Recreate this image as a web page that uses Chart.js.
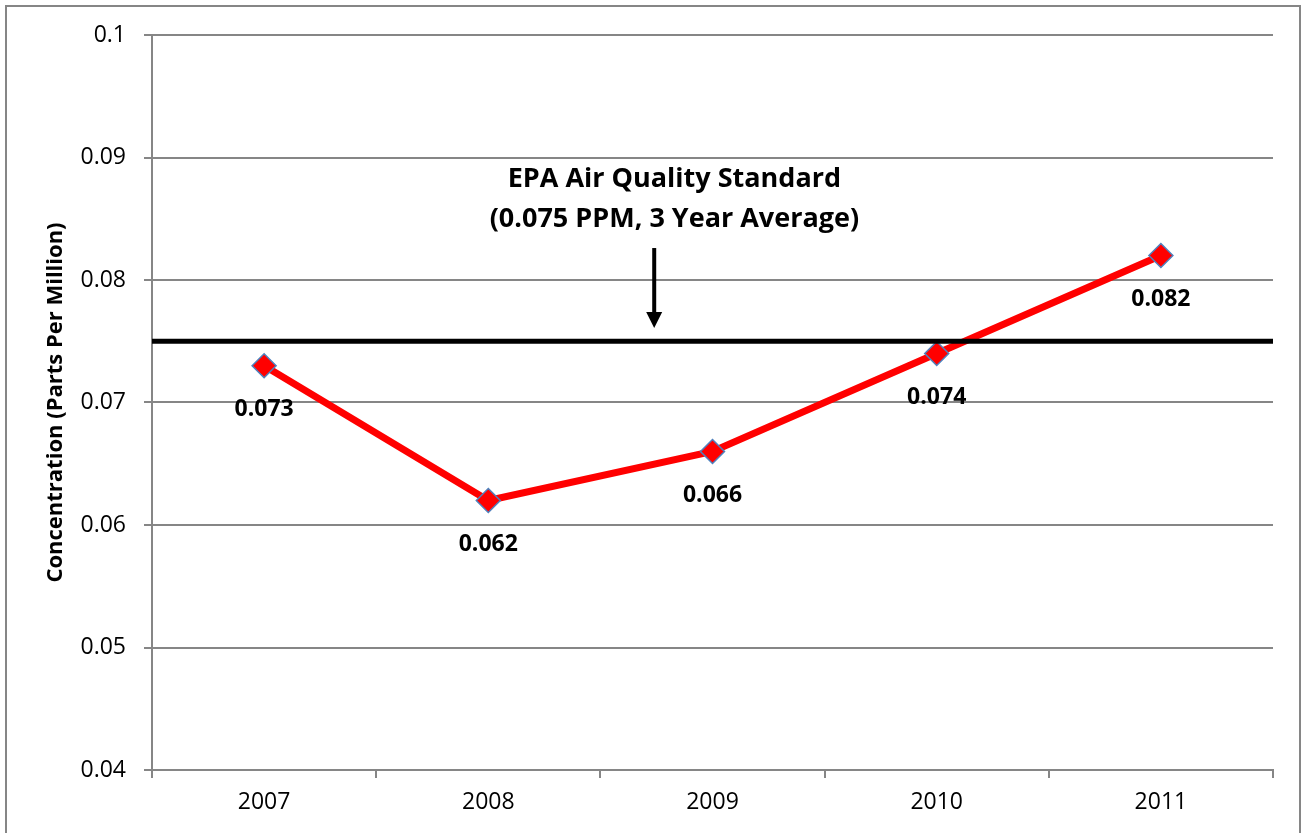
<!DOCTYPE html>
<html>
<head>
<meta charset="utf-8">
<title>Ozone Concentration vs EPA Standard</title>
<script src="https://cdn.jsdelivr.net/npm/chart.js@4.4.0/dist/chart.umd.min.js"></script>
<style>
    html, body { margin: 0; padding: 0; background: #fff; }
    canvas { display: block; }
</style>
</head>
<body>
<canvas id="ozoneChart" width="1301" height="833"></canvas>
<script>
/* Ozone concentration chart */

const years = ['2007', '2008', '2009', '2010', '2011'];
const concentrations = [0.073, 0.062, 0.066, 0.074, 0.082];
const yTicks = [0.04, 0.05, 0.06, 0.07, 0.08, 0.09, 0.1];
const standardLevel = 0.075;
const standardNote = ['EPA Air Quality Standard', '(0.075 PPM, 3 Year Average)'];

const GRID_GRAY = '#868686';
const FONT = '"Open Sans", Lato, sans-serif';

// where the note and its arrow sit, in axis units (category index / ppm)
const note = {
    textX: 1.83,
    lineY: [0.08759, 0.08433],
    arrowX: 1.74,
    arrowTop: 0.08261,
    arrowTip: 0.07608
};

const frameBorder = {
    id: 'frameBorder',
    beforeDraw(chart) {
        const ctx = chart.ctx;
        ctx.save();
        ctx.fillStyle = '#fff';
        ctx.fillRect(0, 0, chart.width, chart.height);
        ctx.strokeStyle = GRID_GRAY;
        ctx.lineWidth = 2;
        ctx.strokeRect(6, 6, 1294, chart.height + 20);
        ctx.restore();
    }
};

const standardLine = {
    id: 'standardLine',
    afterDatasetsDraw(chart) {
        const { ctx, chartArea, scales } = chart;
        const y = scales.y.getPixelForValue(standardLevel);

        ctx.save();
        ctx.strokeStyle = '#000';
        ctx.lineWidth = 5;
        ctx.beginPath();
        ctx.moveTo(chartArea.left, y);
        ctx.lineTo(chartArea.right, y);
        ctx.stroke();

        // note text
        ctx.fillStyle = '#000';
        ctx.font = `bold 27px ${FONT}`;
        ctx.textAlign = 'center';
        ctx.textBaseline = 'alphabetic';
        const tx = scales.x.getPixelForValue(note.textX);
        standardNote.forEach((line, i) => {
            ctx.fillText(line, tx, scales.y.getPixelForValue(note.lineY[i]));
        });

        // arrow
        const ax = scales.x.getPixelForValue(note.arrowX);
        const top = scales.y.getPixelForValue(note.arrowTop);
        const tip = scales.y.getPixelForValue(note.arrowTip);
        ctx.lineWidth = 4;
        ctx.beginPath();
        ctx.moveTo(ax, top);
        ctx.lineTo(ax, tip - 14);
        ctx.stroke();
        ctx.beginPath();
        ctx.moveTo(ax - 8, tip - 16);
        ctx.lineTo(ax + 8, tip - 16);
        ctx.lineTo(ax, tip);
        ctx.closePath();
        ctx.fill();
        ctx.restore();
    }
};

const valueLabels = {
    id: 'valueLabels',
    afterDatasetsDraw(chart) {
        const ctx = chart.ctx;
        const meta = chart.getDatasetMeta(0);
        ctx.save();
        ctx.fillStyle = '#000';
        ctx.font = `bold 23px ${FONT}`;
        ctx.textAlign = 'center';
        ctx.textBaseline = 'alphabetic';
        meta.data.forEach((pt, i) => {
            ctx.fillText(concentrations[i].toFixed(3), pt.x, pt.y + 50);
        });
        ctx.restore();
    }
};

new Chart(document.getElementById('ozoneChart'), {
    type: 'line',
    data: {
        labels: years,
        datasets: [{
            label: 'Concentration',
            data: concentrations,
            borderColor: '#FF0000',
            borderWidth: 7,
            tension: 0,
            pointStyle: 'rectRot',
            pointRadius: 12,
            pointBackgroundColor: '#FF0000',
            pointBorderColor: '#4F81BD',
            pointBorderWidth: 1.5,
            clip: false
        }]
    },
    options: {
        responsive: false,
        animation: false,
        layout: {
            padding: { top: 35, right: 28, left: 0, bottom: 0 }
        },
        plugins: {
            legend: { display: false },
            tooltip: { enabled: false }
        },
        scales: {
            x: {
                offset: true,
                grid: {
                    offset: true,
                    drawOnChartArea: false,
                    color: GRID_GRAY,
                    lineWidth: 2,
                    tickLength: 8
                },
                border: { color: GRID_GRAY, width: 2 },
                ticks: {
                    color: '#000',
                    font: { family: FONT, size: 23 },
                    padding: 11,
                    maxRotation: 0
                },
                afterFit(scale) { scale.height = 63; }
            },
            y: {
                min: 0.04,
                max: 0.1,
                afterBuildTicks(scale) {
                    scale.ticks = yTicks.map(v => ({ value: v }));
                },
                grid: {
                    color: GRID_GRAY,
                    lineWidth: 2,
                    tickLength: 8
                },
                border: { color: GRID_GRAY, width: 2 },
                ticks: {
                    color: '#000',
                    font: { family: FONT, size: 23 },
                    padding: 18,
                    callback: v => String(+v.toFixed(2))
                },
                title: {
                    display: true,
                    text: 'Concentration (Parts Per Million)',
                    color: '#000',
                    font: { family: FONT, size: 22, weight: 'bold' },
                    padding: { top: 43, bottom: 0 }
                },
                afterFit(scale) { scale.width = 152; }
            }
        }
    },
    plugins: [frameBorder, standardLine, valueLabels]
});
</script>
</body>
</html>
